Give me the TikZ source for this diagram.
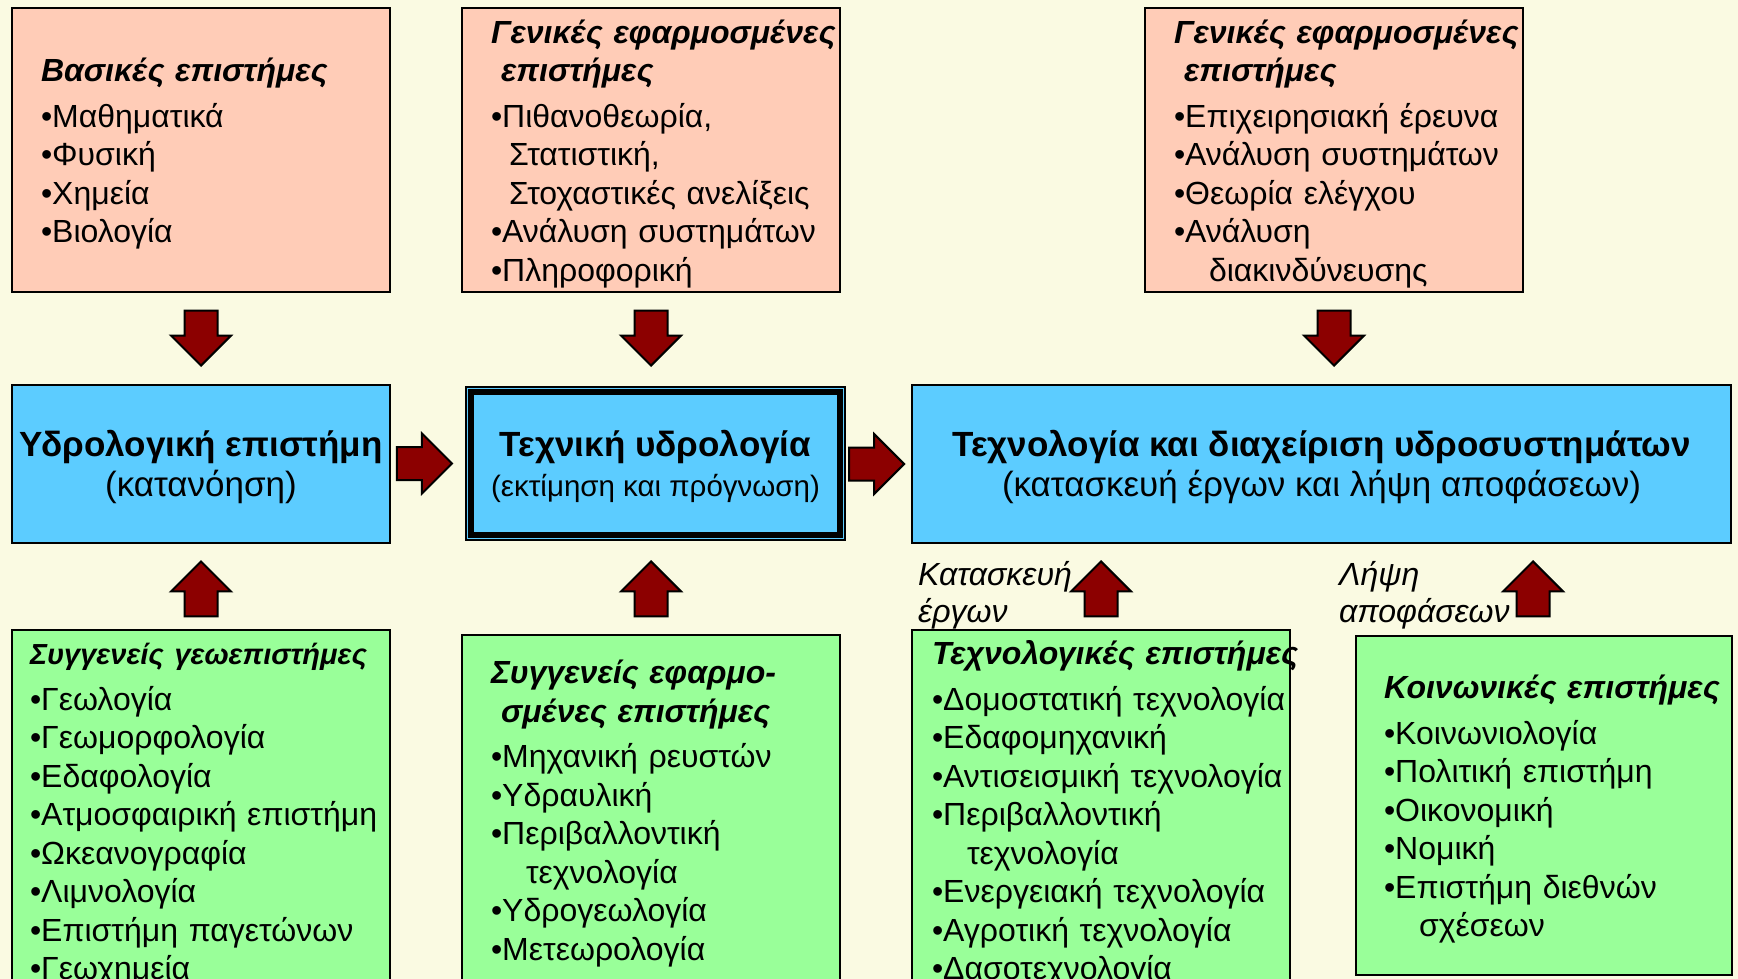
\documentclass[tikz,border=0pt]{standalone}
\usepackage{fontspec}
\setmainfont{Liberation Sans}
\usepackage{tikz}
\usetikzlibrary{positioning,calc,shapes.arrows}

\definecolor{bgcream}{RGB}{250,250,226}
\definecolor{boxpink}{RGB}{255,204,183}
\definecolor{boxblue}{RGB}{92,204,255}
\definecolor{boxgreen}{RGB}{153,255,153}
\definecolor{arrowred}{RGB}{140,0,0}

\newcommand{\boxtitle}[1]{\mbox{\bfseries\itshape #1}}
\newcommand{\itm}[1]{\mbox{•#1}}
\newcommand{\cont}[2][35pt]{\mbox{\hspace*{#1}#2}}

\tikzset{
  listbox/.style={draw=black,line width=2pt,align=left,minimum width=378pt,
    inner xsep=29pt,text width=320pt,font=\fontsize{32}{38.5}\selectfont,
    execute at begin node={\rule{0pt}{31pt}}},
  pinkbox/.style={listbox,fill=boxpink,minimum height=284pt},
  greenbox/.style={listbox,fill=boxgreen,minimum height=350pt},
  bluebox/.style={draw=black,line width=2pt,fill=boxblue,align=center,
    minimum height=158pt,font=\fontsize{35}{40}\selectfont},
  blockarrow/.style={single arrow,draw=black,line width=2pt,fill=arrowred,anchor=tip,
    minimum height=55pt,inner sep=15.5pt,single arrow head extend=13.5pt},
  downarrow/.style={blockarrow,shape border rotate=270},
  uparrow/.style={blockarrow,shape border rotate=90},
  rightarrow/.style={blockarrow},
  sidelabel/.style={anchor=west,align=left,inner sep=0pt,font=\fontsize{32}{37}\selectfont\itshape}
}

\begin{document}
\begin{tikzpicture}[x=1pt,y=-1pt]
\useasboundingbox (0,0) rectangle (1738,979);
\clip (0,0) rectangle (1738,979);
\fill[bgcream] (0,0) rectangle (1738,979);

% top row
\node (basic)[pinkbox] at (201,150) {\boxtitle{Βασικές επιστήμες}\\[7pt]
	\itm{Μαθηματικά}\\
	\itm{Φυσική}\\
	\itm{Χημεία}\\
	\itm{Βιολογία}};
\node (genapp)[pinkbox] at (651,150) {\boxtitle{Γενικές εφαρμοσμένες}\\
	\cont[10pt]{\boxtitle{επιστήμες}}\\[7pt]
	\itm{Πιθανοθεωρία,}\\
	\cont[18pt]{Στατιστική,}\\
	\cont[18pt]{Στοχαστικές ανελίξεις}\\
	\itm{Ανάλυση συστημάτων}\\
	\itm{Πληροφορική}};
\node (genapptwo)[pinkbox] at (1334,150) {\boxtitle{Γενικές εφαρμοσμένες}\\
	\cont[10pt]{\boxtitle{επιστήμες}}\\[7pt]
	\itm{Επιχειρησιακή έρευνα}\\
	\itm{Ανάλυση συστημάτων}\\
	\itm{Θεωρία ελέγχου}\\
	\itm{Ανάλυση}\\
	\cont{διακινδύνευσης}};

% middle row
\node (hydro)[bluebox,minimum width=378pt] at (201,464)
	{\rule{0pt}{33pt}\textbf{Υδρολογική επιστήμη}\\(κατανόηση)};
\node (techhydro)[bluebox,line width=1.2pt,minimum width=379pt,minimum height=153pt] at (655.5,463.5)
	{\rule{0pt}{33pt}\textbf{Τεχνική υδρολογία}\\{\fontsize{29.5}{36}\selectfont(εκτίμηση και πρόγνωση)}};
\draw[line width=6pt] ($(techhydro.north west)+(6,6)$) rectangle ($(techhydro.south east)+(-6,-6)$);
\node (manage)[bluebox,minimum width=819pt] at (1321.5,464)
	{\rule{0pt}{33pt}\textbf{Τεχνολογία και διαχείριση υδροσυστημάτων}\\(κατασκευή έργων και λήψη αποφάσεων)};

% bottom row
\node (geo)[greenbox,inner xsep=18pt,text width=342pt] at (201,810)
	{{\fontsize{29}{38.5}\selectfont\boxtitle{Συγγενείς γεωεπιστήμες}}\\[7pt]
	\itm{Γεωλογία}\\
	\itm{Γεωμορφολογία}\\
	\itm{Εδαφολογία}\\
	\itm{Ατμοσφαιρική επιστήμη}\\
	\itm{Ωκεανογραφία}\\
	\itm{Λιμνολογία}\\
	\itm{Επιστήμη παγετώνων}\\
	\itm{Γεωχημεία}};
\node (relapp)[greenbox] at (651,810) {\boxtitle{Συγγενείς εφαρμο-}\\
	\cont[10pt]{\boxtitle{σμένες επιστήμες}}\\[7pt]
	\itm{Μηχανική ρευστών}\\
	\itm{Υδραυλική}\\
	\itm{Περιβαλλοντική}\\
	\cont{τεχνολογία}\\
	\itm{Υδρογεωλογία}\\
	\itm{Μετεωρολογία}};
\node (techsci)[greenbox,inner xsep=20pt,text width=338pt] at (1101,810) {\boxtitle{Τεχνολογικές επιστήμες}\\[7pt]
	\itm{Δομοστατική τεχνολογία}\\
	\itm{Εδαφομηχανική}\\
	\itm{Αντισεισμική τεχνολογία}\\
	\itm{Περιβαλλοντική}\\
	\cont{τεχνολογία}\\
	\itm{Ενεργειακή τεχνολογία}\\
	\itm{Αγροτική τεχνολογία}\\
	\itm{Δασοτεχνολογία}};
\node (social)[greenbox,minimum width=376pt,inner xsep=28pt,minimum height=339pt] at (1544,805.5) {\boxtitle{Κοινωνικές επιστήμες}\\[7pt]
	\itm{Κοινωνιολογία}\\
	\itm{Πολιτική επιστήμη}\\
	\itm{Οικονομική}\\
	\itm{Νομική}\\
	\itm{Επιστήμη διεθνών}\\
	\cont{σχέσεων}};

% arrows between the rows (placed by their tips)
\node (downA)[downarrow] at ($(hydro.north)+(0,-17)$) {};
\node (downB)[downarrow] at (genapp.south |- downA.tip) {};
\node (downC)[downarrow] at (genapptwo.south |- downA.tip) {};
\node (rightA)[rightarrow] at ($(techhydro.west)+(-12,0)$) {};
\node (rightB)[rightarrow] at ($(manage.west)+(-5.5,0)$) {};
\node (upG)[uparrow] at ($(hydro.south)+(0,16)$) {};
\node (upH)[uparrow] at (relapp.north |- upG.tip) {};
\node (upI)[uparrow] at (techsci.north |- upG.tip) {};
\node (upJ)[uparrow] at ($(social.north |- upG.tip)+(-11,0)$) {};

\node (buildlbl)[sidelabel] at (918,595) {Κατασκευή\\έργων};
\node (decidelbl)[sidelabel] at (1339,595) {Λήψη\\αποφάσεων};
\end{tikzpicture}
\end{document}
